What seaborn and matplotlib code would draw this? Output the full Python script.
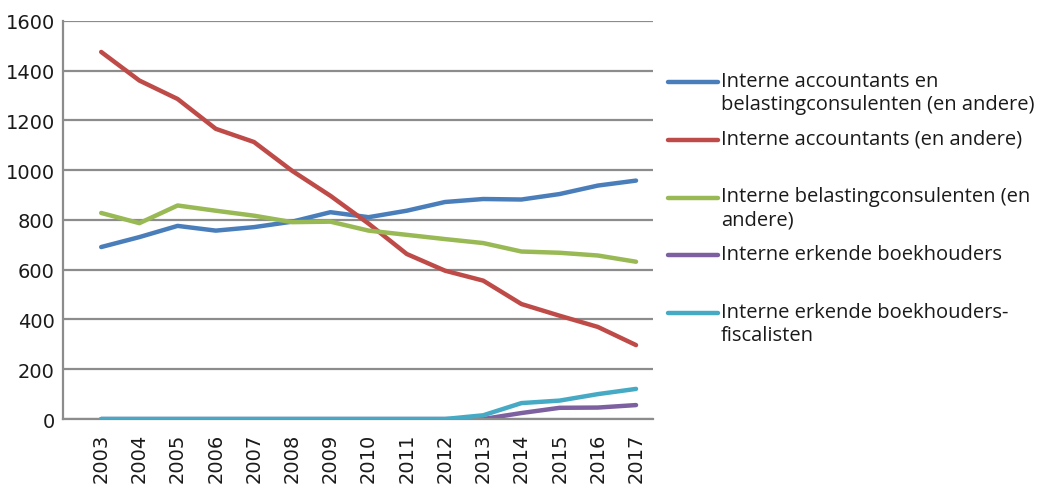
"""
Interne beroepen 2003-2017: lijndiagram met legende rechts.
"""

import numpy as np
import pandas as pd
import matplotlib.pyplot as plt
import seaborn as sns
from matplotlib.lines import Line2D

YEARS = list(range(2003, 2018))

ACC_EN_BEL = [691, 731, 776, 757, 771, 793, 831, 811, 837, 872, 884, 882, 904, 938, 958]
ACC        = [1475, 1360, 1286, 1166, 1113, 997, 897, 785, 663, 596, 556, 462, 415, 370, 297]
BEL        = [828, 787, 858, 837, 817, 791, 793, 757, 740, 723, 707, 673, 668, 657, 632]
BOEK       = [0, 0, 0, 0, 0, 0, 0, 0, 0, 0, 0, 24, 45, 46, 56]
BOEK_FISC  = [0, 0, 0, 0, 0, 0, 0, 0, 0, 0, 15, 64, 74, 100, 121]

LABELS = [
    "Interne accountants en\nbelastingconsulenten (en andere)",
    "Interne accountants (en andere)",
    "Interne belastingconsulenten (en\nandere)",
    "Interne erkende boekhouders",
    "Interne erkende boekhouders-\nfiscalisten",
]
COLORS = ["#4A7EBB", "#BE4B48", "#98B954", "#7D60A0", "#46AAC5"]
SERIES = [ACC_EN_BEL, ACC, BEL, BOEK, BOEK_FISC]

# seaborn stacks later hues underneath, so cyan goes before purple
DRAW_ORDER = [0, 1, 2, 4, 3]


def main() -> None:
    sns.set_style("white")
    plt.rcParams["font.family"] = ["DejaVu Sans"]

    rows = []
    for lab, vals in zip(LABELS, SERIES):
        for yr, v in zip(YEARS, vals):
            rows.append({"jaar": yr, "aantal": v, "reeks": lab})
    df = pd.DataFrame(rows)

    fig = plt.figure(figsize=(10.41, 4.85), dpi=100)
    ax = fig.add_axes([0.0605, 0.134, 0.567, 0.821])

    sns.lineplot(data=df, x="jaar", y="aantal", hue="reeks",
                 hue_order=[LABELS[i] for i in DRAW_ORDER],
                 palette=[COLORS[i] for i in DRAW_ORDER],
                 linewidth=3.2, legend=False, ax=ax)

    # make sure cyan is drawn over purple on the shared zero stretch
    for ln in ax.get_lines():
        if ln.get_color().lower() == COLORS[4].lower() or \
           np.allclose(plt.matplotlib.colors.to_rgb(ln.get_color()),
                       plt.matplotlib.colors.to_rgb(COLORS[4])):
            ln.set_zorder(5)

    ax.set_xlim(2002.0, 2017.45)
    ax.set_ylim(0, 1600)
    ax.set_yticks(np.arange(0, 1601, 200))
    ax.set_xticks(YEARS)
    ax.set_xticklabels([str(y) for y in YEARS], rotation=90)
    ax.set_xlabel("")
    ax.set_ylabel("")
    ax.tick_params(axis="both", length=0, labelsize=14, colors="#1a1a1a")
    ax.tick_params(axis="x", pad=10)
    ax.tick_params(axis="y", pad=6)

    ax.yaxis.grid(True, color="#8c8c8c", linewidth=1.6)
    ax.xaxis.grid(False)
    ax.set_axisbelow(True)
    for side in ["top", "right"]:
        ax.spines[side].set_visible(False)
    for side in ["left", "bottom"]:
        ax.spines[side].set_color("#8c8c8c")
        ax.spines[side].set_linewidth(1.6)

    # legend built by hand so the handle sits on the first text line
    W, H = 1041, 485
    y0, step = 83, 57.75
    for i, (lab, col) in enumerate(zip(LABELS, COLORS)):
        yc = y0 + i * step
        fig.add_artist(Line2D([668 / W, 718 / W], [1 - yc / H, 1 - yc / H],
                              color=col, linewidth=3.2, solid_capstyle="round"))
        fig.text(721 / W, 1 - (yc - 11) / H, lab, ha="left", va="top",
                 fontsize=14.5, family=["Open Sans", "DejaVu Sans"],
                 color="#1a1a1a", linespacing=1.2)

    plt.savefig("out.png", dpi=100)
    plt.close()


if __name__ == "__main__":
    main()
